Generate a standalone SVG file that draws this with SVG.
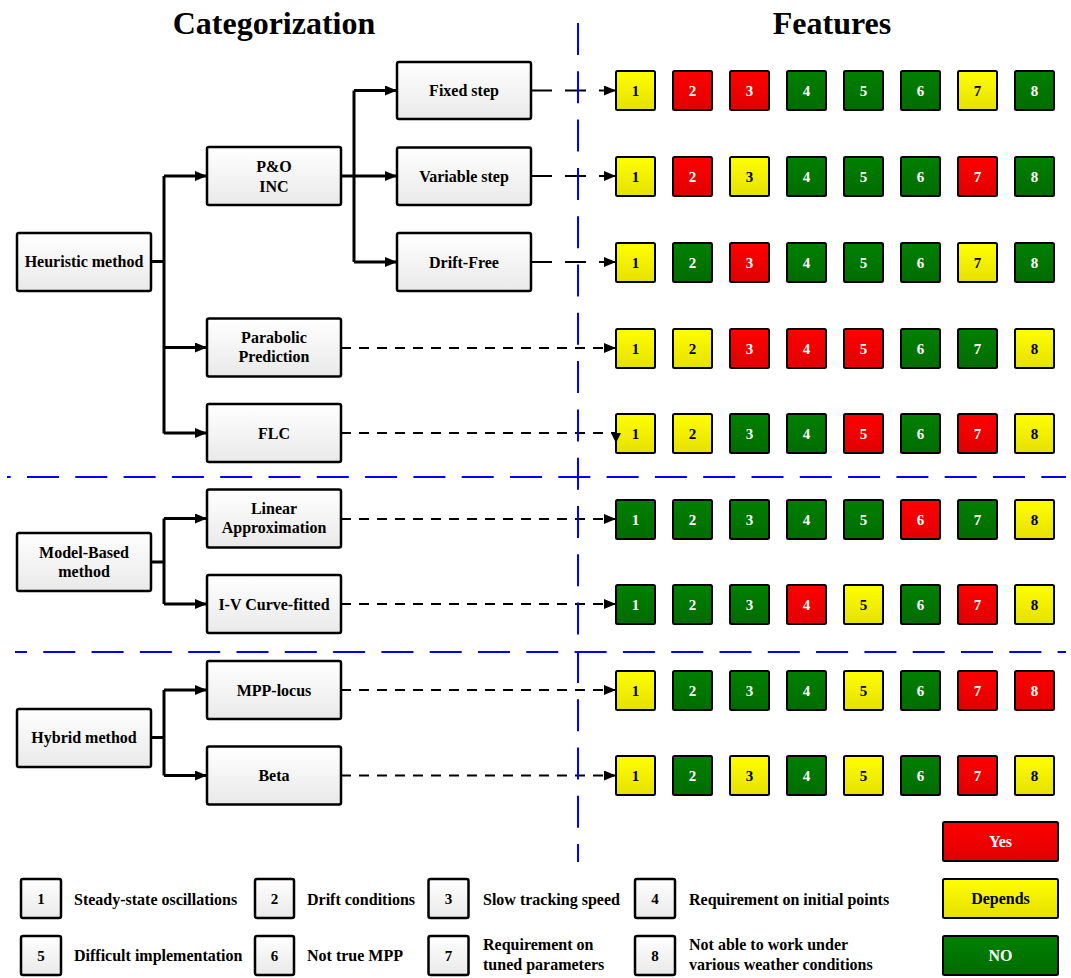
<svg xmlns="http://www.w3.org/2000/svg" width="1071" height="978" viewBox="0 0 1071 978">
  <style>
    .t { font-family: "Liberation Serif", "Times New Roman", serif; font-weight: bold; font-size: 16px; text-anchor: middle; fill: #000; }
    .title { font-size: 32px; }
    .d { font-size: 15px; }
    .w { fill: #fff; }
    .lt { text-anchor: start; }
    .box { fill: url(#gBox); stroke: #000; stroke-width: 2.5; }
    .sq { stroke: #000; stroke-width: 2; }
    .Y { fill: url(#gY); }
    .R { fill: url(#gR); }
    .G { fill: url(#gG); }
    .solid { fill: none; stroke: #000; stroke-width: 3; }
    .arr { marker-end: url(#ah); }
    .dash { fill: none; stroke: #000; stroke-width: 2; stroke-dasharray: 10 8; marker-end: url(#ah); }
    .dashS { stroke-dasharray: 21 13; }
    .sep { fill: none; stroke: #0000ff; stroke-width: 2; stroke-dasharray: 32 16.3; }
  </style>
  <defs>
    <linearGradient id="gBox" x1="0" y1="0" x2="0" y2="1">
      <stop offset="0" stop-color="#ffffff"/>
      <stop offset="1" stop-color="#e9e9e9"/>
    </linearGradient>
    <linearGradient id="gY" x1="0" y1="0" x2="0" y2="1">
      <stop offset="0" stop-color="#ffff00"/>
      <stop offset="1" stop-color="#e6e000"/>
    </linearGradient>
    <linearGradient id="gR" x1="0" y1="0" x2="0" y2="1">
      <stop offset="0" stop-color="#ff0000"/>
      <stop offset="1" stop-color="#e00000"/>
    </linearGradient>
    <linearGradient id="gG" x1="0" y1="0" x2="0" y2="1">
      <stop offset="0" stop-color="#008000"/>
      <stop offset="1" stop-color="#006c00"/>
    </linearGradient>
    <marker id="ah" markerUnits="userSpaceOnUse" markerWidth="13" markerHeight="11" refX="12" refY="5" orient="auto">
      <path d="M0,0 L12,5 L0,10 z" fill="#000"/>
    </marker>
    <marker id="ahDown" markerUnits="userSpaceOnUse" markerWidth="11" markerHeight="11" refX="5" refY="0" orient="0">
      <path d="M0,0 L10,0 L5,10 z" fill="#000"/>
    </marker>
  </defs>

  <rect width="1071" height="978" fill="#fff"/>

  <!-- headings -->
  <text class="t title" x="274" y="34">Categorization</text>
  <text class="t title" x="832" y="34">Features</text>

  <!-- categorization nodes -->
  <g id="heuristic"><rect class="box" x="17" y="233" width="134" height="58" rx="2"/><text class="t" x="84" y="267">Heuristic method</text></g>
  <g id="po-inc"><rect class="box" x="207" y="147" width="134" height="58" rx="2"/><text class="t" x="274" y="171.5">P&amp;O</text><text class="t" x="274" y="191.5">INC</text></g>
  <g id="fixed-step"><rect class="box" x="397" y="62" width="134" height="57" rx="2"/><text class="t" x="464" y="96">Fixed step</text></g>
  <g id="variable-step"><rect class="box" x="397" y="147.5" width="134" height="57.5" rx="2"/><text class="t" x="464" y="181.5">Variable step</text></g>
  <g id="drift-free"><rect class="box" x="397" y="233" width="134" height="58" rx="2"/><text class="t" x="464" y="267.5">Drift-Free</text></g>
  <g id="parabolic"><rect class="box" x="207" y="318.5" width="134" height="58" rx="2"/><text class="t" x="274" y="343">Parabolic</text><text class="t" x="274" y="362">Prediction</text></g>
  <g id="flc"><rect class="box" x="207" y="404" width="134" height="58" rx="2"/><text class="t" x="274" y="438.5">FLC</text></g>
  <g id="model-based"><rect class="box" x="17" y="533" width="134" height="58" rx="2"/><text class="t" x="84" y="557.5">Model-Based</text><text class="t" x="84" y="576.5">method</text></g>
  <g id="linear"><rect class="box" x="207" y="489.5" width="134" height="58" rx="2"/><text class="t" x="274" y="514">Linear</text><text class="t" x="274" y="533">Approximation</text></g>
  <g id="iv-curve"><rect class="box" x="207" y="575" width="134" height="58" rx="2"/><text class="t" x="274" y="609.5">I-V Curve-fitted</text></g>
  <g id="hybrid"><rect class="box" x="17" y="709" width="134" height="58" rx="2"/><text class="t" x="84" y="743">Hybrid method</text></g>
  <g id="mpp-locus"><rect class="box" x="207" y="661" width="134" height="58" rx="2"/><text class="t" x="274" y="695.5">MPP-locus</text></g>
  <g id="beta"><rect class="box" x="207" y="746.5" width="134" height="58" rx="2"/><text class="t" x="274" y="781">Beta</text></g>

  <!-- feature rows: columns at x = 616 + 57*k -->
  <g id="row-fixed-step">
    <rect class="sq Y" x="616" y="71" width="39" height="39" rx="1.5"/><text class="t d" x="635.5" y="96">1</text>
    <rect class="sq R" x="673" y="71" width="39" height="39" rx="1.5"/><text class="t d w" x="692.5" y="96">2</text>
    <rect class="sq R" x="730" y="71" width="39" height="39" rx="1.5"/><text class="t d w" x="749.5" y="96">3</text>
    <rect class="sq G" x="787" y="71" width="39" height="39" rx="1.5"/><text class="t d w" x="806.5" y="96">4</text>
    <rect class="sq G" x="844" y="71" width="39" height="39" rx="1.5"/><text class="t d w" x="863.5" y="96">5</text>
    <rect class="sq G" x="901" y="71" width="39" height="39" rx="1.5"/><text class="t d w" x="920.5" y="96">6</text>
    <rect class="sq Y" x="958" y="71" width="39" height="39" rx="1.5"/><text class="t d" x="977.5" y="96">7</text>
    <rect class="sq G" x="1015" y="71" width="39" height="39" rx="1.5"/><text class="t d w" x="1034.5" y="96">8</text>
  </g>
  <g id="row-variable-step">
    <rect class="sq Y" x="616" y="157" width="39" height="39" rx="1.5"/><text class="t d" x="635.5" y="182">1</text>
    <rect class="sq R" x="673" y="157" width="39" height="39" rx="1.5"/><text class="t d w" x="692.5" y="182">2</text>
    <rect class="sq Y" x="730" y="157" width="39" height="39" rx="1.5"/><text class="t d" x="749.5" y="182">3</text>
    <rect class="sq G" x="787" y="157" width="39" height="39" rx="1.5"/><text class="t d w" x="806.5" y="182">4</text>
    <rect class="sq G" x="844" y="157" width="39" height="39" rx="1.5"/><text class="t d w" x="863.5" y="182">5</text>
    <rect class="sq G" x="901" y="157" width="39" height="39" rx="1.5"/><text class="t d w" x="920.5" y="182">6</text>
    <rect class="sq R" x="958" y="157" width="39" height="39" rx="1.5"/><text class="t d w" x="977.5" y="182">7</text>
    <rect class="sq G" x="1015" y="157" width="39" height="39" rx="1.5"/><text class="t d w" x="1034.5" y="182">8</text>
  </g>
  <g id="row-drift-free">
    <rect class="sq Y" x="616" y="243" width="39" height="39" rx="1.5"/><text class="t d" x="635.5" y="268">1</text>
    <rect class="sq G" x="673" y="243" width="39" height="39" rx="1.5"/><text class="t d w" x="692.5" y="268">2</text>
    <rect class="sq R" x="730" y="243" width="39" height="39" rx="1.5"/><text class="t d w" x="749.5" y="268">3</text>
    <rect class="sq G" x="787" y="243" width="39" height="39" rx="1.5"/><text class="t d w" x="806.5" y="268">4</text>
    <rect class="sq G" x="844" y="243" width="39" height="39" rx="1.5"/><text class="t d w" x="863.5" y="268">5</text>
    <rect class="sq G" x="901" y="243" width="39" height="39" rx="1.5"/><text class="t d w" x="920.5" y="268">6</text>
    <rect class="sq Y" x="958" y="243" width="39" height="39" rx="1.5"/><text class="t d" x="977.5" y="268">7</text>
    <rect class="sq G" x="1015" y="243" width="39" height="39" rx="1.5"/><text class="t d w" x="1034.5" y="268">8</text>
  </g>
  <g id="row-parabolic">
    <rect class="sq Y" x="616" y="329" width="39" height="39" rx="1.5"/><text class="t d" x="635.5" y="354">1</text>
    <rect class="sq Y" x="673" y="329" width="39" height="39" rx="1.5"/><text class="t d" x="692.5" y="354">2</text>
    <rect class="sq R" x="730" y="329" width="39" height="39" rx="1.5"/><text class="t d w" x="749.5" y="354">3</text>
    <rect class="sq R" x="787" y="329" width="39" height="39" rx="1.5"/><text class="t d w" x="806.5" y="354">4</text>
    <rect class="sq R" x="844" y="329" width="39" height="39" rx="1.5"/><text class="t d w" x="863.5" y="354">5</text>
    <rect class="sq G" x="901" y="329" width="39" height="39" rx="1.5"/><text class="t d w" x="920.5" y="354">6</text>
    <rect class="sq G" x="958" y="329" width="39" height="39" rx="1.5"/><text class="t d w" x="977.5" y="354">7</text>
    <rect class="sq Y" x="1015" y="329" width="39" height="39" rx="1.5"/><text class="t d" x="1034.5" y="354">8</text>
  </g>
  <g id="row-flc">
    <rect class="sq Y" x="616" y="414" width="39" height="39" rx="1.5"/><text class="t d" x="635.5" y="439">1</text>
    <rect class="sq Y" x="673" y="414" width="39" height="39" rx="1.5"/><text class="t d" x="692.5" y="439">2</text>
    <rect class="sq G" x="730" y="414" width="39" height="39" rx="1.5"/><text class="t d w" x="749.5" y="439">3</text>
    <rect class="sq G" x="787" y="414" width="39" height="39" rx="1.5"/><text class="t d w" x="806.5" y="439">4</text>
    <rect class="sq R" x="844" y="414" width="39" height="39" rx="1.5"/><text class="t d w" x="863.5" y="439">5</text>
    <rect class="sq G" x="901" y="414" width="39" height="39" rx="1.5"/><text class="t d w" x="920.5" y="439">6</text>
    <rect class="sq R" x="958" y="414" width="39" height="39" rx="1.5"/><text class="t d w" x="977.5" y="439">7</text>
    <rect class="sq Y" x="1015" y="414" width="39" height="39" rx="1.5"/><text class="t d" x="1034.5" y="439">8</text>
  </g>
  <g id="row-linear">
    <rect class="sq G" x="616" y="500" width="39" height="39" rx="1.5"/><text class="t d w" x="635.5" y="525">1</text>
    <rect class="sq G" x="673" y="500" width="39" height="39" rx="1.5"/><text class="t d w" x="692.5" y="525">2</text>
    <rect class="sq G" x="730" y="500" width="39" height="39" rx="1.5"/><text class="t d w" x="749.5" y="525">3</text>
    <rect class="sq G" x="787" y="500" width="39" height="39" rx="1.5"/><text class="t d w" x="806.5" y="525">4</text>
    <rect class="sq G" x="844" y="500" width="39" height="39" rx="1.5"/><text class="t d w" x="863.5" y="525">5</text>
    <rect class="sq R" x="901" y="500" width="39" height="39" rx="1.5"/><text class="t d w" x="920.5" y="525">6</text>
    <rect class="sq G" x="958" y="500" width="39" height="39" rx="1.5"/><text class="t d w" x="977.5" y="525">7</text>
    <rect class="sq Y" x="1015" y="500" width="39" height="39" rx="1.5"/><text class="t d" x="1034.5" y="525">8</text>
  </g>
  <g id="row-iv-curve">
    <rect class="sq G" x="616" y="585" width="39" height="39" rx="1.5"/><text class="t d w" x="635.5" y="610">1</text>
    <rect class="sq G" x="673" y="585" width="39" height="39" rx="1.5"/><text class="t d w" x="692.5" y="610">2</text>
    <rect class="sq G" x="730" y="585" width="39" height="39" rx="1.5"/><text class="t d w" x="749.5" y="610">3</text>
    <rect class="sq R" x="787" y="585" width="39" height="39" rx="1.5"/><text class="t d w" x="806.5" y="610">4</text>
    <rect class="sq Y" x="844" y="585" width="39" height="39" rx="1.5"/><text class="t d" x="863.5" y="610">5</text>
    <rect class="sq G" x="901" y="585" width="39" height="39" rx="1.5"/><text class="t d w" x="920.5" y="610">6</text>
    <rect class="sq R" x="958" y="585" width="39" height="39" rx="1.5"/><text class="t d w" x="977.5" y="610">7</text>
    <rect class="sq Y" x="1015" y="585" width="39" height="39" rx="1.5"/><text class="t d" x="1034.5" y="610">8</text>
  </g>
  <g id="row-mpp-locus">
    <rect class="sq Y" x="616" y="671" width="39" height="39" rx="1.5"/><text class="t d" x="635.5" y="696">1</text>
    <rect class="sq G" x="673" y="671" width="39" height="39" rx="1.5"/><text class="t d w" x="692.5" y="696">2</text>
    <rect class="sq G" x="730" y="671" width="39" height="39" rx="1.5"/><text class="t d w" x="749.5" y="696">3</text>
    <rect class="sq G" x="787" y="671" width="39" height="39" rx="1.5"/><text class="t d w" x="806.5" y="696">4</text>
    <rect class="sq Y" x="844" y="671" width="39" height="39" rx="1.5"/><text class="t d" x="863.5" y="696">5</text>
    <rect class="sq G" x="901" y="671" width="39" height="39" rx="1.5"/><text class="t d w" x="920.5" y="696">6</text>
    <rect class="sq R" x="958" y="671" width="39" height="39" rx="1.5"/><text class="t d w" x="977.5" y="696">7</text>
    <rect class="sq R" x="1015" y="671" width="39" height="39" rx="1.5"/><text class="t d w" x="1034.5" y="696">8</text>
  </g>
  <g id="row-beta">
    <rect class="sq Y" x="616" y="756" width="39" height="39" rx="1.5"/><text class="t d" x="635.5" y="781">1</text>
    <rect class="sq G" x="673" y="756" width="39" height="39" rx="1.5"/><text class="t d w" x="692.5" y="781">2</text>
    <rect class="sq Y" x="730" y="756" width="39" height="39" rx="1.5"/><text class="t d" x="749.5" y="781">3</text>
    <rect class="sq G" x="787" y="756" width="39" height="39" rx="1.5"/><text class="t d w" x="806.5" y="781">4</text>
    <rect class="sq Y" x="844" y="756" width="39" height="39" rx="1.5"/><text class="t d" x="863.5" y="781">5</text>
    <rect class="sq G" x="901" y="756" width="39" height="39" rx="1.5"/><text class="t d w" x="920.5" y="781">6</text>
    <rect class="sq R" x="958" y="756" width="39" height="39" rx="1.5"/><text class="t d w" x="977.5" y="781">7</text>
    <rect class="sq Y" x="1015" y="756" width="39" height="39" rx="1.5"/><text class="t d" x="1034.5" y="781">8</text>
  </g>

  <!-- colour key -->
  <g id="key-yes"><rect class="sq R" x="943" y="822" width="115" height="39" rx="1.5"/><text class="t w" x="1000.5" y="847">Yes</text></g>
  <g id="key-depends"><rect class="sq Y" x="943" y="879" width="115" height="39" rx="1.5"/><text class="t" x="1000.5" y="904">Depends</text></g>
  <g id="key-no"><rect class="sq G" x="943" y="936" width="115" height="39" rx="1.5"/><text class="t w" x="1000.5" y="961">NO</text></g>

  <!-- numbered feature key -->
  <g id="key-1"><rect class="box" x="21" y="879" width="40" height="39" rx="2"/><text class="t d" x="41" y="904">1</text><text class="t lt" x="74" y="904.5">Steady-state oscillations</text></g>
  <g id="key-2"><rect class="box" x="255" y="879" width="39" height="39" rx="2"/><text class="t d" x="274.5" y="904">2</text><text class="t lt" x="307" y="904.5">Drift conditions</text></g>
  <g id="key-3"><rect class="box" x="428.5" y="879" width="40" height="39" rx="2"/><text class="t d" x="448.5" y="904">3</text><text class="t lt" x="483" y="904.5">Slow tracking speed</text></g>
  <g id="key-4"><rect class="box" x="635" y="879" width="40" height="39" rx="2"/><text class="t d" x="655" y="904">4</text><text class="t lt" x="689" y="904.5">Requirement on initial points</text></g>
  <g id="key-5"><rect class="box" x="21" y="936" width="40" height="39" rx="2"/><text class="t d" x="41" y="961">5</text><text class="t lt" x="74" y="961">Difficult implementation</text></g>
  <g id="key-6"><rect class="box" x="255" y="936" width="39" height="39" rx="2"/><text class="t d" x="274.5" y="961">6</text><text class="t lt" x="307" y="961">Not true MPP</text></g>
  <g id="key-7"><rect class="box" x="428.5" y="936" width="40" height="39" rx="2"/><text class="t d" x="448.5" y="961">7</text><text class="t lt" x="483" y="950">Requirement on</text><text class="t lt" x="483" y="970">tuned parameters</text></g>
  <g id="key-8"><rect class="box" x="635" y="936" width="40" height="39" rx="2"/><text class="t d" x="655" y="961">8</text><text class="t lt" x="689" y="950">Not able to work under</text><text class="t lt" x="689" y="970">various weather conditions</text></g>

  <!-- connectors -->
  <g id="connectors">
    <!-- heuristic tree -->
    <path class="solid" d="M151,261.5 H164 M164,176 V433.5"/>
    <path class="solid arr" d="M164,176 H207"/>
    <path class="solid arr" d="M164,347.5 H207"/>
    <path class="solid arr" d="M164,433 H207"/>
    <path class="solid" d="M341,176 H354 M354,90.5 V262"/>
    <path class="solid arr" d="M354,90.5 H397"/>
    <path class="solid arr" d="M354,176 H397"/>
    <path class="solid arr" d="M354,262 H397"/>
    <!-- model-based tree -->
    <path class="solid" d="M151,562 H164 M164,518.5 V604"/>
    <path class="solid arr" d="M164,518.5 H207"/>
    <path class="solid arr" d="M164,604 H207"/>
    <!-- hybrid tree -->
    <path class="solid" d="M151,737.5 H164 M164,690 V775.5"/>
    <path class="solid arr" d="M164,690 H207"/>
    <path class="solid arr" d="M164,775.5 H207"/>
    <!-- method to feature rows -->
    <path class="dash dashS" d="M531,90.5 H616"/>
    <path class="dash dashS" d="M531,176 H616"/>
    <path class="dash dashS" d="M531,262 H616"/>
    <path class="dash" d="M341,348 H616"/>
    <path class="dash" style="marker-end:url(#ahDown)" d="M341,433 H616"/>
    <path class="dash" d="M341,519 H616"/>
    <path class="dash" d="M341,604 H616"/>
    <path class="dash" d="M341,690 H616"/>
    <path class="dash" d="M341,775.5 H616"/>
  </g>

  <!-- section separators -->
  <g id="separators">
    <path class="sep" d="M578,23 V862"/>
    <path class="sep" style="stroke-dashoffset:28.3" d="M7,477 H1066"/>
    <path class="sep" style="stroke-dashoffset:20" d="M15,652 H1066"/>
  </g>
</svg>
